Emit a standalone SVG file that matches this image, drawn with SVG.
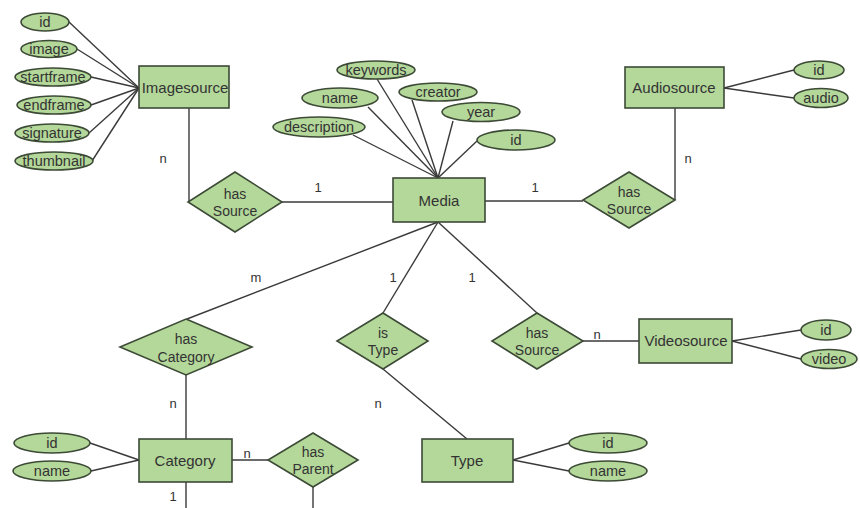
<svg xmlns="http://www.w3.org/2000/svg" width="860" height="508" viewBox="0 0 860 508">
  <style>
    .shape { fill: #b3d89a; stroke: #3c4a36; stroke-width: 1.6; }
    .conn { stroke: #3a3a3a; stroke-width: 1.4; fill: none; }
    text { font-family: "Liberation Sans", Arial, sans-serif; fill: #333; text-anchor: middle; }
    .ent { font-size: 15px; }
    .att { font-size: 14.5px; }
    .rel { font-size: 14px; }
    .card { font-size: 13px; }
  </style>
  <rect width="860" height="508" fill="#ffffff"/>

  <!-- connectors -->
  <g id="connectors" class="conn">
    <!-- Imagesource attributes -->
    <line x1="69" y1="22" x2="139" y2="88"/>
    <line x1="77" y1="49" x2="139" y2="88"/>
    <line x1="91" y1="77" x2="139" y2="88"/>
    <line x1="91" y1="105" x2="139" y2="88"/>
    <line x1="89" y1="133" x2="139" y2="88"/>
    <line x1="92" y1="161" x2="139" y2="88"/>
    <!-- Imagesource - has Source - Media -->
    <polyline points="189,108 189,202"/>
    <line x1="282" y1="202" x2="393" y2="202"/>
    <!-- Media attributes -->
    <line x1="377" y1="79" x2="438" y2="178"/>
    <line x1="368" y1="107" x2="438" y2="178"/>
    <line x1="353" y1="135" x2="438" y2="178"/>
    <line x1="412" y1="100" x2="438" y2="178"/>
    <line x1="453" y1="121" x2="438" y2="178"/>
    <line x1="477" y1="141" x2="438" y2="178"/>
    <!-- Media - has Source - Audiosource -->
    <line x1="485" y1="201" x2="583" y2="201"/>
    <polyline points="675,200 675,108"/>
    <line x1="724" y1="88" x2="794" y2="70"/>
    <line x1="724" y1="88" x2="794" y2="98"/>
    <!-- Media - has Category -->
    <line x1="438" y1="222" x2="187" y2="319"/>
    <line x1="186" y1="375" x2="186" y2="439"/>
    <!-- Media - is Type - Type -->
    <line x1="438" y1="222" x2="383" y2="313"/>
    <line x1="383" y1="369" x2="467" y2="439"/>
    <!-- Media - has Source - Videosource -->
    <line x1="438" y1="222" x2="537" y2="313"/>
    <line x1="583" y1="341" x2="639" y2="341"/>
    <line x1="732" y1="341" x2="801" y2="330"/>
    <line x1="732" y1="341" x2="801" y2="359"/>
    <!-- Category attributes and has Parent -->
    <line x1="90" y1="443" x2="139" y2="460"/>
    <line x1="91" y1="471" x2="139" y2="460"/>
    <line x1="232" y1="460" x2="268" y2="460"/>
    <line x1="186" y1="482" x2="186" y2="508"/>
    <line x1="313" y1="487" x2="313" y2="508"/>
    <!-- Type attributes -->
    <line x1="513" y1="460" x2="569" y2="443"/>
    <line x1="513" y1="460" x2="569" y2="471"/>
  </g>

  <!-- cardinalities -->
  <g id="cardinalities" class="card">
    <text x="163" y="163">n</text>
    <text x="318" y="192">1</text>
    <text x="535" y="192">1</text>
    <text x="688" y="163">n</text>
    <text x="256" y="282">m</text>
    <text x="393" y="282">1</text>
    <text x="472" y="282">1</text>
    <text x="173" y="408">n</text>
    <text x="378" y="408">n</text>
    <text x="597" y="339">n</text>
    <text x="247" y="458">n</text>
    <text x="173" y="501">1</text>
  </g>

  <!-- entity: Imagesource -->
  <g id="imagesource">
    <rect class="shape" x="139" y="66" width="90" height="42"/>
    <text class="ent" x="185" y="93">Imagesource</text>
  </g>
  <g id="imagesource-attrs" class="att">
    <ellipse class="shape" cx="45" cy="22" rx="24" ry="9"/>
    <text x="45" y="27">id</text>
    <ellipse class="shape" cx="49" cy="49" rx="28" ry="8.5"/>
    <text x="49" y="54">image</text>
    <ellipse class="shape" cx="53" cy="77" rx="38" ry="9"/>
    <text x="53" y="82">startframe</text>
    <ellipse class="shape" cx="54" cy="105" rx="37" ry="9"/>
    <text x="54" y="110">endframe</text>
    <ellipse class="shape" cx="52" cy="133" rx="37" ry="9"/>
    <text x="52" y="138">signature</text>
    <ellipse class="shape" cx="54" cy="161" rx="39" ry="9"/>
    <text x="54" y="166">thumbnail</text>
  </g>

  <!-- relationship: has Source (image) -->
  <g id="has-source-image">
    <polygon class="shape" points="235,172 282,202 235,232 188,202"/>
    <text class="rel" x="235" y="199">has</text>
    <text class="rel" x="235" y="216">Source</text>
  </g>

  <!-- entity: Media -->
  <g id="media">
    <rect class="shape" x="393" y="178" width="92" height="44"/>
    <text class="ent" x="439" y="206">Media</text>
  </g>
  <g id="media-attrs" class="att">
    <ellipse class="shape" cx="376" cy="70" rx="39" ry="9"/>
    <text x="376" y="75">keywords</text>
    <ellipse class="shape" cx="340" cy="98" rx="38" ry="10"/>
    <text x="340" y="103">name</text>
    <ellipse class="shape" cx="319" cy="127" rx="46" ry="10"/>
    <text x="319" y="132">description</text>
    <ellipse class="shape" cx="438" cy="92" rx="39" ry="9"/>
    <text x="438" y="97">creator</text>
    <ellipse class="shape" cx="481" cy="112" rx="39" ry="9.5"/>
    <text x="481" y="117">year</text>
    <ellipse class="shape" cx="516" cy="140" rx="39" ry="10"/>
    <text x="516" y="145">id</text>
  </g>

  <!-- relationship: has Source (audio) -->
  <g id="has-source-audio">
    <polygon class="shape" points="629,172 675,200 629,228 583,200"/>
    <text class="rel" x="629" y="197">has</text>
    <text class="rel" x="629" y="214">Source</text>
  </g>

  <!-- entity: Audiosource -->
  <g id="audiosource">
    <rect class="shape" x="625" y="67" width="99" height="41"/>
    <text class="ent" x="674" y="93">Audiosource</text>
  </g>
  <g id="audiosource-attrs" class="att">
    <ellipse class="shape" cx="819" cy="70" rx="25" ry="9"/>
    <text x="819" y="75">id</text>
    <ellipse class="shape" cx="821" cy="98" rx="27" ry="9.5"/>
    <text x="821" y="103">audio</text>
  </g>

  <!-- relationship: has Category -->
  <g id="has-category">
    <polygon class="shape" points="186,319 252,347 186,375 120,347"/>
    <text class="rel" x="186" y="344">has</text>
    <text class="rel" x="186" y="362">Category</text>
  </g>

  <!-- relationship: is Type -->
  <g id="is-type">
    <polygon class="shape" points="383,313 428,341 383,369 337,341"/>
    <text class="rel" x="383" y="338">is</text>
    <text class="rel" x="383" y="355">Type</text>
  </g>

  <!-- relationship: has Source (video) -->
  <g id="has-source-video">
    <polygon class="shape" points="537,313 583,341 537,369 492,341"/>
    <text class="rel" x="537" y="338">has</text>
    <text class="rel" x="537" y="355">Source</text>
  </g>

  <!-- entity: Videosource -->
  <g id="videosource">
    <rect class="shape" x="639" y="319" width="93" height="44"/>
    <text class="ent" x="686" y="346">Videosource</text>
  </g>
  <g id="videosource-attrs" class="att">
    <ellipse class="shape" cx="826" cy="330" rx="25" ry="10"/>
    <text x="826" y="335">id</text>
    <ellipse class="shape" cx="829" cy="359" rx="28" ry="9.5"/>
    <text x="829" y="364">video</text>
  </g>

  <!-- entity: Category -->
  <g id="category">
    <rect class="shape" x="139" y="439" width="93" height="43"/>
    <text class="ent" x="185" y="466">Category</text>
  </g>
  <g id="category-attrs" class="att">
    <ellipse class="shape" cx="52" cy="443" rx="38" ry="10"/>
    <text x="52" y="448">id</text>
    <ellipse class="shape" cx="52" cy="471" rx="39" ry="10"/>
    <text x="52" y="476">name</text>
  </g>

  <!-- relationship: has Parent -->
  <g id="has-parent">
    <polygon class="shape" points="313,433 358,460 313,487 268,460"/>
    <text class="rel" x="313" y="457">has</text>
    <text class="rel" x="313" y="474">Parent</text>
  </g>

  <!-- entity: Type -->
  <g id="type">
    <rect class="shape" x="422" y="439" width="91" height="43"/>
    <text class="ent" x="467" y="466">Type</text>
  </g>
  <g id="type-attrs" class="att">
    <ellipse class="shape" cx="608" cy="443" rx="39" ry="10"/>
    <text x="608" y="448">id</text>
    <ellipse class="shape" cx="608" cy="471" rx="39" ry="10"/>
    <text x="608" y="476">name</text>
  </g>
</svg>
